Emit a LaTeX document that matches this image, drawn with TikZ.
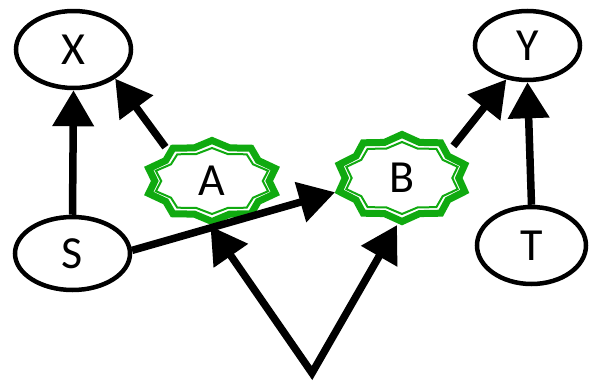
\documentclass[tikz,border=0pt]{standalone}
\usepackage{fontspec}
\setmainfont{Carlito}
\usetikzlibrary{arrows.meta,calc,shapes.geometric}

\definecolor{burstgreen}{RGB}{16,170,16}

% star outline round a node: centre, x radius, y radius, line width
\newcommand{\burst}[4]{%
  \draw[burstgreen,line width=#4,line join=miter]
    ($(#1)+(90:#2 and #3)$)
    \foreach \k in {1,...,19} {
      -- ($(#1)+({90+\k*18}:{(1-0.14*mod(\k,2))*#2} and {(1-0.14*mod(\k,2))*#3})$)
    } -- cycle;}

\begin{document}
\begin{tikzpicture}[x=1pt,y=-1pt,
  every node/.style={font=\fontsize{46}{46}\selectfont,inner sep=0pt},
  var/.style={ellipse,draw,line width=4.5pt},
  mid/.style={ellipse,minimum width=140pt,minimum height=90pt},
  arr/.style={-{Triangle[length=36pt,width=40pt]},line width=7.5pt},
  twoarr/.style={{Triangle[length=36pt,width=40pt]}-{Triangle[length=36pt,width=40pt]},line width=7.5pt,line join=miter}]
\useasboundingbox (0,0) rectangle (590,383);

\node[var,minimum width=115pt,minimum height=77pt] (X) at (73.5,49.5) {X};
\node[var,minimum width=105pt,minimum height=69pt] (Y) at (527.5,45.5) {Y};
\node[var,minimum width=115pt,minimum height=73pt] (S) at (72.5,253.5) {S};
\node[var,minimum width=109pt,minimum height=77pt] (T) at (531.5,245.5) {T};
\node[mid] (A) at (212,181) {A};
\node[mid,minimum height=94pt] (B) at (402,178) {B};

\burst{A}{66.5}{40.5}{7pt}
\burst{A}{59}{33}{2pt}
\burst{B}{66}{43.5}{7pt}
\burst{B}{58.5}{36}{2pt}

\draw[arr] (S.north) -- (X.south);
\draw[arr] (A.144) -- (X.-35);
\draw[arr] (S.3) -- (B.192);
\draw[arr] (B.32) -- (Y.238);
\draw[arr] (T.north) -- (Y.south);
\coordinate (src) at (312,373);
\draw[twoarr] (A.268) -- (src) -- (B.264);
\end{tikzpicture}
\end{document}
